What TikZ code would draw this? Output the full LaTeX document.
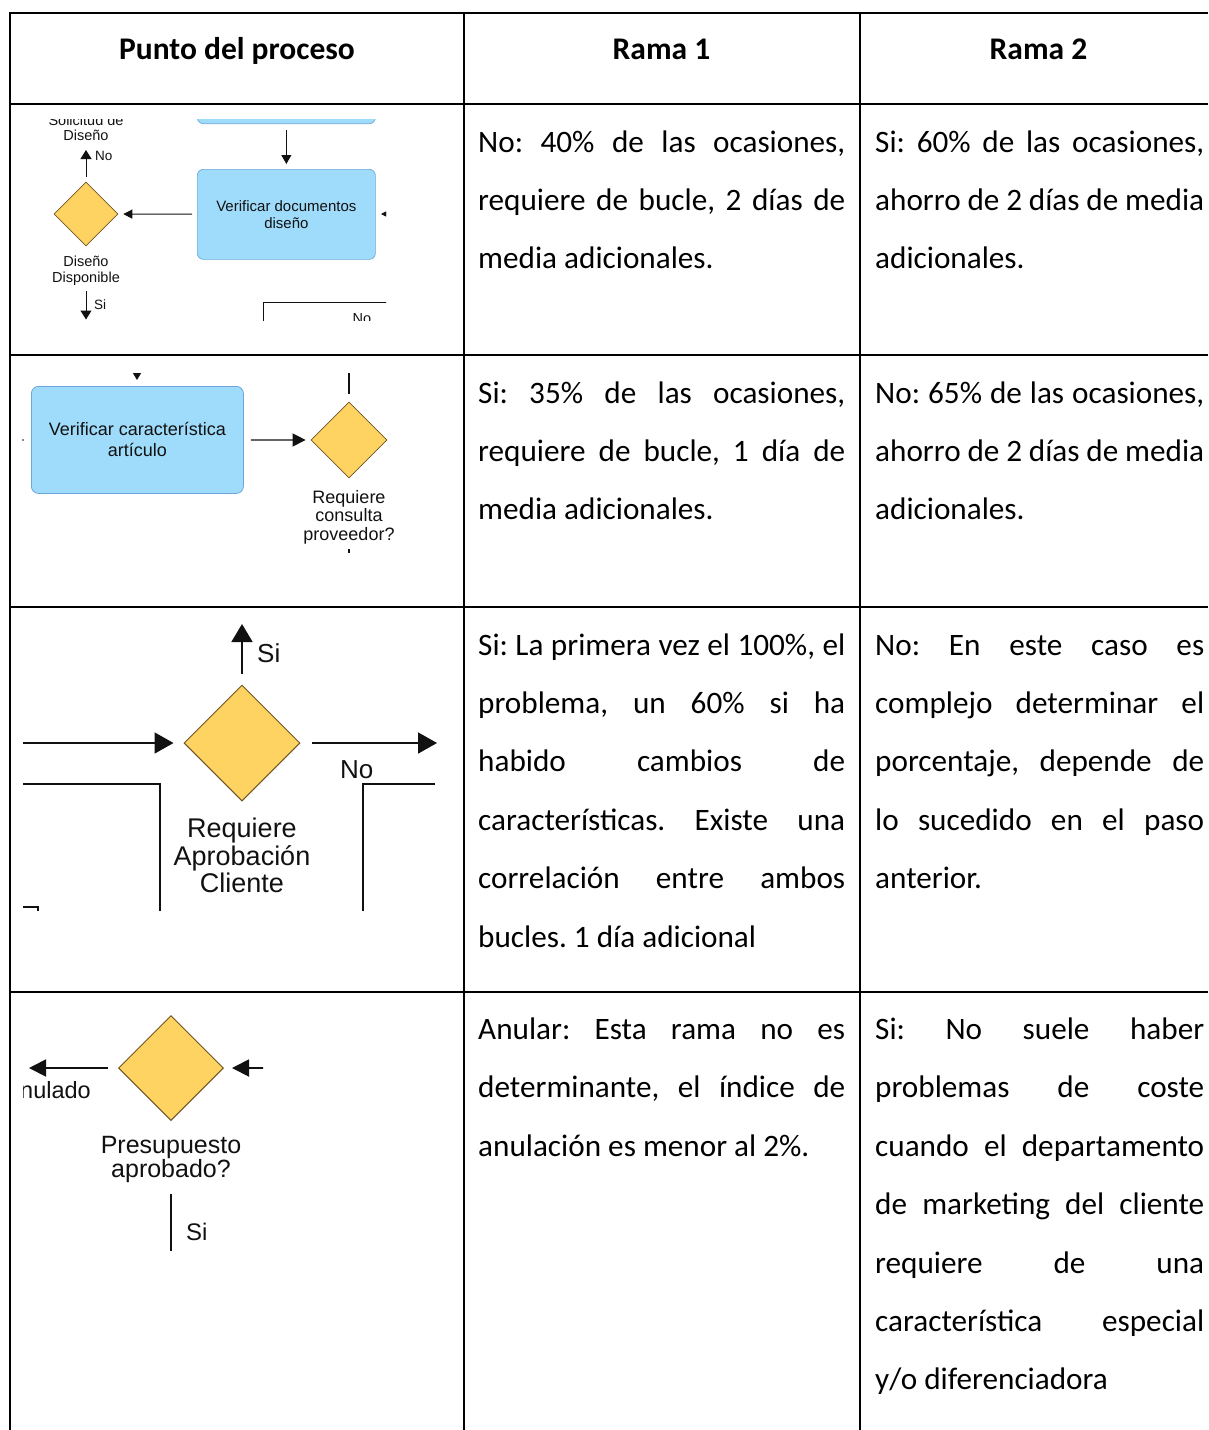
\documentclass[tikz,border=0pt]{standalone}
\usepackage{fontspec}
\setmainfont{Carlito}
\newfontfamily\flowfont{Liberation Sans}
\usetikzlibrary{arrows.meta,shapes.geometric}
\frenchspacing

\definecolor{decfill}{HTML}{FFD362}
\definecolor{decdraw}{HTML}{6E5522}
\definecolor{actfill}{HTML}{9FDCFB}
\definecolor{actdraw}{HTML}{6CA7DA}
\definecolor{ink}{HTML}{111111}

% one justified line of a table cell
\newcommand\jl[1]{\hbox to\hsize{#1}}
% a stack of lines, hanging from the baseline of its first line
\newcommand\cellstack[2]{\vtop{\hsize=#1\relax #2}}

\tikzset{
  hrule/.style={line width=2pt},
  vrule/.style={line width=1.2pt},
  headtxt/.style={font=\bfseries\fontsize{31.5}{38}\selectfont, inner sep=0, anchor=base},
  celltxt/.style={font=\fontsize{31.2}{58.4}\selectfont, inner sep=0, anchor=base west},
  decision/.style={diamond, draw=decdraw, fill=decfill, inner sep=0, minimum width=#1, minimum height=#1},
  activity/.style={rectangle, draw=actdraw, fill=actfill, inner sep=0, align=center},
  farrow/.style n args={3}{line width=#1, draw=ink, -{Triangle[length=#2,width=#3]}},
  fline/.style={line width=#1, draw=ink},
  ftxt/.style n args={2}{font=\flowfont\fontsize{#1}{#2}\selectfont, inner sep=0, text=ink},
}

\begin{document}
\begin{tikzpicture}[x=1pt,y=-1pt]
\useasboundingbox (0,0) rectangle (1208,1430);

% ---------- table grid ----------
\foreach \yy in {13,104,355,607,992}
  \draw[hrule] (9.4,\yy) -- (1208,\yy);
\foreach \xx in {10,464,860}
  \draw[vrule] (\xx,12) -- (\xx,1430);

% ---------- header ----------
\node[headtxt] (h1) at (237,59) {Punto del proceso};
\node[headtxt] (h2) at (661.5,59) {Rama 1};
\node[headtxt] (h3) at (1038.5,59) {Rama 2};

% ---------- row 1: Diseño disponible ----------
\begin{scope}
  \clip (23,119) rectangle (386,320);
  \node[activity, rounded corners=6pt, line width=0.7pt, minimum width=178pt, minimum height=60pt, anchor=south west] (prevbox) at (197,124) {};
  \node[activity, rounded corners=6pt, line width=0.7pt, minimum width=178pt, minimum height=90pt, anchor=north west,
        ftxt={15}{17}] (vdoc) at (197,169) {Verificar documentos\\diseño};
  \node[decision=64pt, line width=0.7pt] (dd1) at (86,214) {};
  \node[ftxt={14.5}{15.5}, anchor=base] (sol) at (86,125) {Solicitud de};
  \node[ftxt={14.5}{15.5}, anchor=base] (dis) at (86,140.7) {Diseño};
  \node[ftxt={14.5}{16.5}, anchor=base, text width=100pt, align=center] (ddisp) at (86,266) {Diseño\\Disponible};
  \node[ftxt={13.5}{14}, anchor=base west] (no1) at (95,160) {No};
  \node[ftxt={13.5}{14}, anchor=base west] (si1) at (94,309) {Si};
  \coordinate (d1up) at (86,150);
  \coordinate (d1si) at (86,291);
  \coordinate (d1dn) at (86,319.5);
  \coordinate (d1r) at (400,214);
  \coordinate (d1rt) at (381,214);
  \coordinate (n1a) at (263,330);
  \coordinate (n1b) at (263,302.5);
  \coordinate (n1c) at (400,302.5);
  \draw[farrow={1pt}{9pt}{10pt}, shorten <=6pt, shorten >=5pt] (prevbox) -- (vdoc);
  \draw[farrow={1pt}{9pt}{9pt}, shorten <=5pt, shorten >=5pt] (vdoc) -- (dd1);
  \draw[farrow={1pt}{9pt}{11pt}, shorten <=5pt] (dd1) -- (d1up);
  \draw[farrow={1pt}{9pt}{11pt}] (d1si) -- (d1dn);
  \draw[farrow={1pt}{6pt}{6pt}] (d1r) -- (d1rt);
  \draw[fline=1pt] (n1a) -- (n1b) -- (n1c);
  \node[ftxt={14.5}{15}, anchor=base] (no1b) at (362,323) {No};
\end{scope}

% ---------- row 2: consulta proveedor ----------
\begin{scope}
  \clip (21,373) rectangle (395,555);
  \node[activity, rounded corners=7pt, line width=0.8pt, minimum width=212pt, minimum height=107pt, anchor=north west,
        ftxt={18}{21}] (vcar) at (31,386) {Verificar característica\\artículo};
  \node[decision=76pt, line width=0.8pt] (dd2) at (349,440) {};
  \node[ftxt={18}{18.6}, anchor=base, text width=140pt, align=center] (rcp) at (349,503) {Requiere\\consulta\\proveedor?};
  \coordinate (c2a) at (137,360);
  \coordinate (c2b) at (137,380);
  \coordinate (c2t) at (349,365);
  \coordinate (c2s1) at (349,549);
  \coordinate (c2s2) at (349,553);
  \draw[farrow={1.2pt}{7pt}{8pt}] (c2a) -- (c2b);
  \draw[farrow={1.3pt}{13pt}{13pt}, shorten <=7pt, shorten >=5pt] (vcar) -- (dd2);
  \draw[fline=1.3pt, shorten >=8pt] (c2t) -- (dd2);
  \draw[fline=1.3pt] (c2s1) -- (c2s2);
  \fill[ink] (23,440) circle (0.8pt);
\end{scope}

% ---------- row 3: aprobación cliente ----------
\begin{scope}
  \clip (23,620) rectangle (438,910);
  \node[decision=116pt, line width=1pt] (dd3) at (242,743) {};
  \node[ftxt={27}{27.7}, anchor=base, text width=200pt, align=center] (rac) at (242,837.5) {Requiere\\Aprobación\\Cliente};
  \node[ftxt={26}{27}, anchor=base west] (si3) at (257,662) {Si};
  \node[ftxt={26}{27}, anchor=base west] (no3) at (340,778.5) {No};
  \coordinate (c3u) at (242,624);
  \coordinate (c3l) at (15,743);
  \coordinate (c3r) at (437,743);
  \coordinate (c3a) at (15,784);
  \coordinate (c3b) at (160,784);
  \coordinate (c3c) at (160,920);
  \coordinate (c3d) at (435,784);
  \coordinate (c3e) at (363,784);
  \coordinate (c3f) at (363,920);
  \coordinate (c3g) at (15,907);
  \coordinate (c3h) at (38,907);
  \coordinate (c3i) at (38,920);
  \draw[farrow={1.8pt}{18pt}{21pt}, shorten <=11pt] (dd3) -- (c3u);
  \draw[farrow={1.8pt}{19pt}{21pt}, shorten >=10pt] (c3l) -- (dd3);
  \draw[farrow={1.8pt}{19pt}{21pt}, shorten <=11pt] (dd3) -- (c3r);
  \draw[fline=1.8pt] (c3a) -- (c3b) -- (c3c);
  \draw[fline=1.8pt] (c3d) -- (c3e) -- (c3f);
  \draw[fline=1.8pt] (c3g) -- (c3h) -- (c3i);
\end{scope}

% ---------- row 4: presupuesto aprobado ----------
\begin{scope}
  \clip (23,1005) rectangle (263,1255);
  \node[decision=105pt, line width=1pt] (dd4) at (171,1068) {};
  \node[ftxt={25}{24.5}, anchor=base, text width=200pt, align=center] (pra) at (171,1153) {Presupuesto\\aprobado?};
  \node[ftxt={23.5}{25}, anchor=base east] (anu) at (91,1098.5) {nulado};
  \node[ftxt={24}{25}, anchor=base west] (si4) at (186,1240) {Si};
  \coordinate (c4l) at (29,1068);
  \coordinate (c4r) at (275,1068);
  \coordinate (c4s1) at (171,1194);
  \coordinate (c4s2) at (171,1251);
  \draw[farrow={1.8pt}{17pt}{17pt}, shorten <=10pt] (dd4) -- (c4l);
  \draw[farrow={1.8pt}{17pt}{17pt}, shorten >=8pt] (c4r) -- (dd4);
  \draw[fline=1.8pt] (c4s1) -- (c4s2);
\end{scope}

% ---------- branch texts ----------
\node[celltxt] (r1a) at (478,152) {\cellstack{367pt}{\jl{No: 40\% de las ocasiones,}\jl{requiere de bucle, 2 días de}\hbox{media adicionales.}}};
\node[celltxt] (r1b) at (875,152) {\cellstack{329pt}{\jl{Si: 60\% de las ocasiones,}\jl{ahorro de 2 días de media}\hbox{adicionales.}}};

\node[celltxt] (r2a) at (478,403) {\cellstack{367pt}{\jl{Si: 35\% de las ocasiones,}\jl{requiere de bucle, 1 día de}\hbox{media adicionales.}}};
\node[celltxt] (r2b) at (875,403) {\cellstack{329pt}{\jl{No: 65\% de las ocasiones,}\jl{ahorro de 2 días de media}\hbox{adicionales.}}};

\node[celltxt] (r3a) at (478,655) {\cellstack{367pt}{\jl{Si: La primera vez el 100\%, el}\jl{problema, un 60\% si ha}\jl{habido cambios de}\jl{características. Existe una}\jl{correlación entre ambos}\hbox{bucles. 1 día adicional}}};
\node[celltxt] (r3b) at (875,655) {\cellstack{329pt}{\jl{No: En este caso es}\jl{complejo determinar el}\jl{porcentaje, depende de}\jl{lo sucedido en el paso}\hbox{anterior.}}};

\node[celltxt] (r4a) at (478,1039.5) {\cellstack{367pt}{\jl{Anular: Esta rama no es}\jl{determinante, el índice de}\hbox{anulación es menor al 2\%.}}};
\node[celltxt] (r4b) at (875,1039.5) {\cellstack{329pt}{\jl{Si: No suele haber}\jl{problemas de coste}\jl{cuando el departamento}\jl{de marketing del cliente}\jl{requiere de una}\jl{característica especial}\hbox{y/o diferenciadora}}};
\end{tikzpicture}
\end{document}
